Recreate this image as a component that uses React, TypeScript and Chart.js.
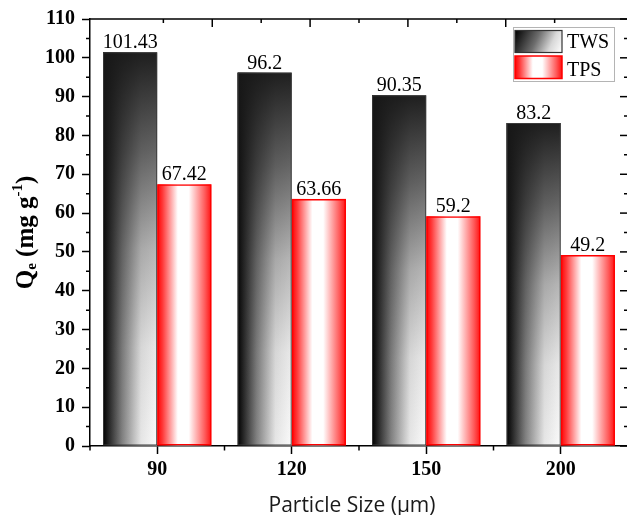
import React, { useEffect, useRef } from "react";
import { Chart, registerables } from "chart.js";
Chart.register(...registerables);

const categories = ["90", "120", "150", "200"];
const seriesNames = ["TWS", "TPS"];
const twsValues = [101.43, 96.2, 90.35, 83.2];
const tpsValues = [67.42, 63.66, 59.2, 49.2];
const twsLabels = ["101.43", "96.2", "90.35", "83.2"];
const tpsLabels = ["67.42", "63.66", "59.2", "49.2"];
const yMin = 0;
const yMax = 110;
const yStep = 10;
const yMinorStep = 5;
const topDivisions = 10;
const xTitle = "Particle Size (µm)";

const SERIF = "'Liberation Serif', 'Times New Roman', serif";
const SANS = "'Open Sans', 'Noto Sans', sans-serif";

function fillTws(ctx: CanvasRenderingContext2D, l: number, t: number, r: number, b: number) {
  const h = ctx.createLinearGradient(l, 0, r, 0);
  h.addColorStop(0, "#000000");
  h.addColorStop(0.06, "#151515");
  h.addColorStop(0.35, "#808080");
  h.addColorStop(0.7, "#e6e6e6");
  h.addColorStop(1, "#fbfbfb");
  ctx.fillStyle = h;
  ctx.fillRect(l, t, r - l, b - t);
  const v = ctx.createLinearGradient(0, t, 0, b);
  v.addColorStop(0, "rgba(24,24,24,0.97)");
  v.addColorStop(0.25, "rgba(24,24,24,0.66)");
  v.addColorStop(0.5, "rgba(24,24,24,0.3)");
  v.addColorStop(0.75, "rgba(24,24,24,0.08)");
  v.addColorStop(1, "rgba(24,24,24,0)");
  ctx.fillStyle = v;
  ctx.fillRect(l, t, r - l, b - t);
}

function fillTps(ctx: CanvasRenderingContext2D, l: number, t: number, r: number, b: number) {
  const h = ctx.createLinearGradient(l, 0, r, 0);
  h.addColorStop(0, "#ff0000");
  h.addColorStop(0.1, "#ff3a3a");
  h.addColorStop(0.38, "#ffffff");
  h.addColorStop(0.58, "#ffffff");
  h.addColorStop(0.88, "#ff5a5a");
  h.addColorStop(1, "#ff1010");
  ctx.fillStyle = h;
  ctx.fillRect(l, t, r - l, b - t);
}

const decorPlugin = {
  id: "decor",
  beforeDatasetsDraw(chart: any) {
    const ctx: CanvasRenderingContext2D = chart.ctx;
    chart.data.datasets.forEach((_ds: any, di: number) => {
      const meta = chart.getDatasetMeta(di);
      meta.data.forEach((bar: any) => {
        const { x, y, base, width } = bar.getProps(["x", "y", "base", "width"], true);
        const l = x - width / 2;
        const r = x + width / 2;
        const t = Math.min(y, base);
        const b = Math.max(y, base);
        ctx.save();
        if (di === 0) fillTws(ctx, l, t, r, b);
        else fillTps(ctx, l, t, r, b);
        ctx.restore();
      });
    });
  },
  afterDraw(chart: any) {
    const ctx: CanvasRenderingContext2D = chart.ctx;
    const { left, right, top, bottom } = chart.chartArea;
    const ys = chart.scales.y;
    const xs = chart.scales.x;
    const xt = chart.scales.xTop;
    ctx.save();
    ctx.strokeStyle = "#000";
    ctx.lineWidth = 1.5;
    // top and right spines
    ctx.beginPath();
    ctx.moveTo(left, top);
    ctx.lineTo(right, top);
    ctx.lineTo(right, bottom);
    ctx.stroke();
    // left minor ticks (outward) and right ticks (inward)
    for (let v = yMin; v <= yMax + 0.001; v += yMinorStep) {
      const py = ys.getPixelForValue(v);
      const major = Math.abs(v % yStep) < 0.001;
      ctx.beginPath();
      if (!major) {
        ctx.moveTo(left - 4, py);
        ctx.lineTo(left, py);
      }
      ctx.moveTo(right, py);
      ctx.lineTo(right - (major ? 8 : 4), py);
      ctx.stroke();
    }
    // top ticks (inward)
    for (let k = 1; k < topDivisions; k++) {
      const px = xt.getPixelForValue(k);
      ctx.beginPath();
      ctx.moveTo(px, top);
      ctx.lineTo(px, top + (k % 2 === 0 ? 8 : 4));
      ctx.stroke();
    }
    // bottom minor ticks at category boundaries
    for (let i = 0; i <= categories.length; i++) {
      const px = xs.getPixelForValue(i - 0.5);
      ctx.beginPath();
      ctx.moveTo(px, bottom);
      ctx.lineTo(px, bottom + 4.5);
      ctx.stroke();
    }
    // value labels
    ctx.fillStyle = "#000";
    ctx.font = `20px ${SERIF}`;
    ctx.textAlign = "center";
    ctx.textBaseline = "alphabetic";
    const labelSets = [twsLabels, tpsLabels];
    chart.data.datasets.forEach((_ds: any, di: number) => {
      const meta = chart.getDatasetMeta(di);
      meta.data.forEach((bar: any, i: number) => {
        const { x, y } = bar.getProps(["x", "y"], true);
        ctx.fillText(labelSets[di][i], x, y - 4);
      });
    });
    // legend
    const bw = 101, bh = 54;
    const bl = right - 115;
    const bt = top + 8;
    ctx.lineWidth = 1;
    ctx.strokeStyle = "#b4b4b4";
    ctx.strokeRect(bl + 0.5, bt + 0.5, bw, bh);
    const sl = bl + 2, sw = 47;
    // TWS swatch
    const s1t = bt + 3.5, s1h = 22;
    const g1 = ctx.createLinearGradient(sl, s1t, sl + sw, s1t + s1h);
    g1.addColorStop(0, "#000000");
    g1.addColorStop(0.45, "#6e6e6e");
    g1.addColorStop(0.75, "#d8d8d8");
    g1.addColorStop(1, "#ffffff");
    ctx.fillStyle = g1;
    ctx.fillRect(sl, s1t, sw, s1h);
    ctx.strokeStyle = "#333";
    ctx.lineWidth = 1.2;
    ctx.strokeRect(sl, s1t, sw, s1h);
    // TPS swatch
    const s2t = bt + 29, s2h = 22.5;
    fillTps(ctx, sl, s2t, sl + sw, s2t + s2h);
    ctx.strokeStyle = "#ff0000";
    ctx.lineWidth = 1.5;
    ctx.strokeRect(sl, s2t, sw, s2h);
    ctx.fillStyle = "#000";
    ctx.font = `20px ${SERIF}`;
    ctx.textAlign = "left";
    ctx.fillText(seriesNames[0], bl + 54, bt + 21);
    ctx.fillText(seriesNames[1], bl + 54, bt + 48.5);
    // x title
    ctx.font = `21px ${SANS}`;
    ctx.fillStyle = "#1a1a1a";
    ctx.textAlign = "center";
    ctx.fillText(xTitle, (left + right) / 2 - 7, 511.5);
    // y title with subscript / superscript
    const big = `bold 25px ${SERIF}`;
    const small = `bold 15px ${SERIF}`;
    const parts = [
      { t: "Q", f: big, dy: 0 },
      { t: "e", f: small, dy: 3 },
      { t: " (mg g", f: big, dy: 0 },
      { t: "-1", f: small, dy: -11 },
      { t: ")", f: big, dy: 0 },
    ];
    let total = 0;
    const widths = parts.map((p) => {
      ctx.font = p.f;
      const w = ctx.measureText(p.t).width;
      total += w;
      return w;
    });
    ctx.translate(33, (top + bottom) / 2);
    ctx.rotate(-Math.PI / 2);
    ctx.textAlign = "left";
    ctx.fillStyle = "#000";
    let cx = -total / 2;
    parts.forEach((p, i) => {
      ctx.font = p.f;
      ctx.fillText(p.t, cx, p.dy);
      cx += widths[i];
    });
    ctx.restore();
  },
};

export default function App() {
  const ref = useRef<HTMLCanvasElement>(null);
  useEffect(() => {
    if (!ref.current) return;
    const chart = new Chart(ref.current, {
      type: "bar",
      data: {
        labels: categories,
        datasets: [
          {
            label: seriesNames[0],
            data: twsValues,
            backgroundColor: "rgba(0,0,0,0)",
            borderColor: "#3a3a3a",
            borderWidth: 1,
            borderSkipped: false,
            xAxisID: "x",
            yAxisID: "y",
          },
          {
            label: seriesNames[1],
            data: tpsValues,
            backgroundColor: "rgba(0,0,0,0)",
            borderColor: "#ff0000",
            borderWidth: 1.5,
            borderSkipped: false,
            xAxisID: "x",
            yAxisID: "y",
          },
        ],
      },
      options: {
        animation: false,
        responsive: false,
        devicePixelRatio: 1,
        layout: { padding: { top: 19, right: 2, left: 0, bottom: 0 } },
        datasets: { bar: { categoryPercentage: 0.806, barPercentage: 1.0 } },
        plugins: {
          legend: { display: false },
          tooltip: { enabled: false },
          title: { display: false },
        },
        scales: {
          x: {
            type: "category",
            position: "bottom",
            offset: true,
            grid: {
              display: true,
              drawOnChartArea: false,
              offset: false,
              drawTicks: true,
              tickLength: 8,
              tickColor: "#000",
              tickWidth: 1.5,
            },
            border: { display: true, color: "#000", width: 1.5 },
            ticks: {
              color: "#000",
              font: { family: SERIF, size: 20, weight: "bold" },
              padding: 4,
              maxRotation: 0,
            },
            afterFit: (s: any) => {
              s.height = 69;
            },
          },
          y: {
            type: "linear",
            position: "left",
            min: yMin,
            max: yMax,
            grid: {
              display: true,
              drawOnChartArea: false,
              drawTicks: true,
              tickLength: 8,
              tickColor: "#000",
              tickWidth: 1.5,
            },
            border: { display: true, color: "#000", width: 1.5 },
            ticks: {
              stepSize: yStep,
              color: "#000",
              font: { family: SERIF, size: 20, weight: "bold" },
              padding: 7,
            },
            afterFit: (s: any) => {
              s.width = 90;
            },
          },
          xTop: {
            type: "linear",
            position: "top",
            display: false,
            min: 0,
            max: topDivisions,
          },
        },
      } as any,
      plugins: [decorPlugin],
    });
    return () => chart.destroy();
  }, []);
  return (
    <div
      style={{
        position: "fixed",
        left: 0,
        top: 0,
        width: 627,
        height: 515,
        overflow: "hidden",
        background: "#fff",
      }}
    >
      <canvas ref={ref} width={630} height={515} style={{ display: "block", width: 630, height: 515 }} />
    </div>
  );
}
